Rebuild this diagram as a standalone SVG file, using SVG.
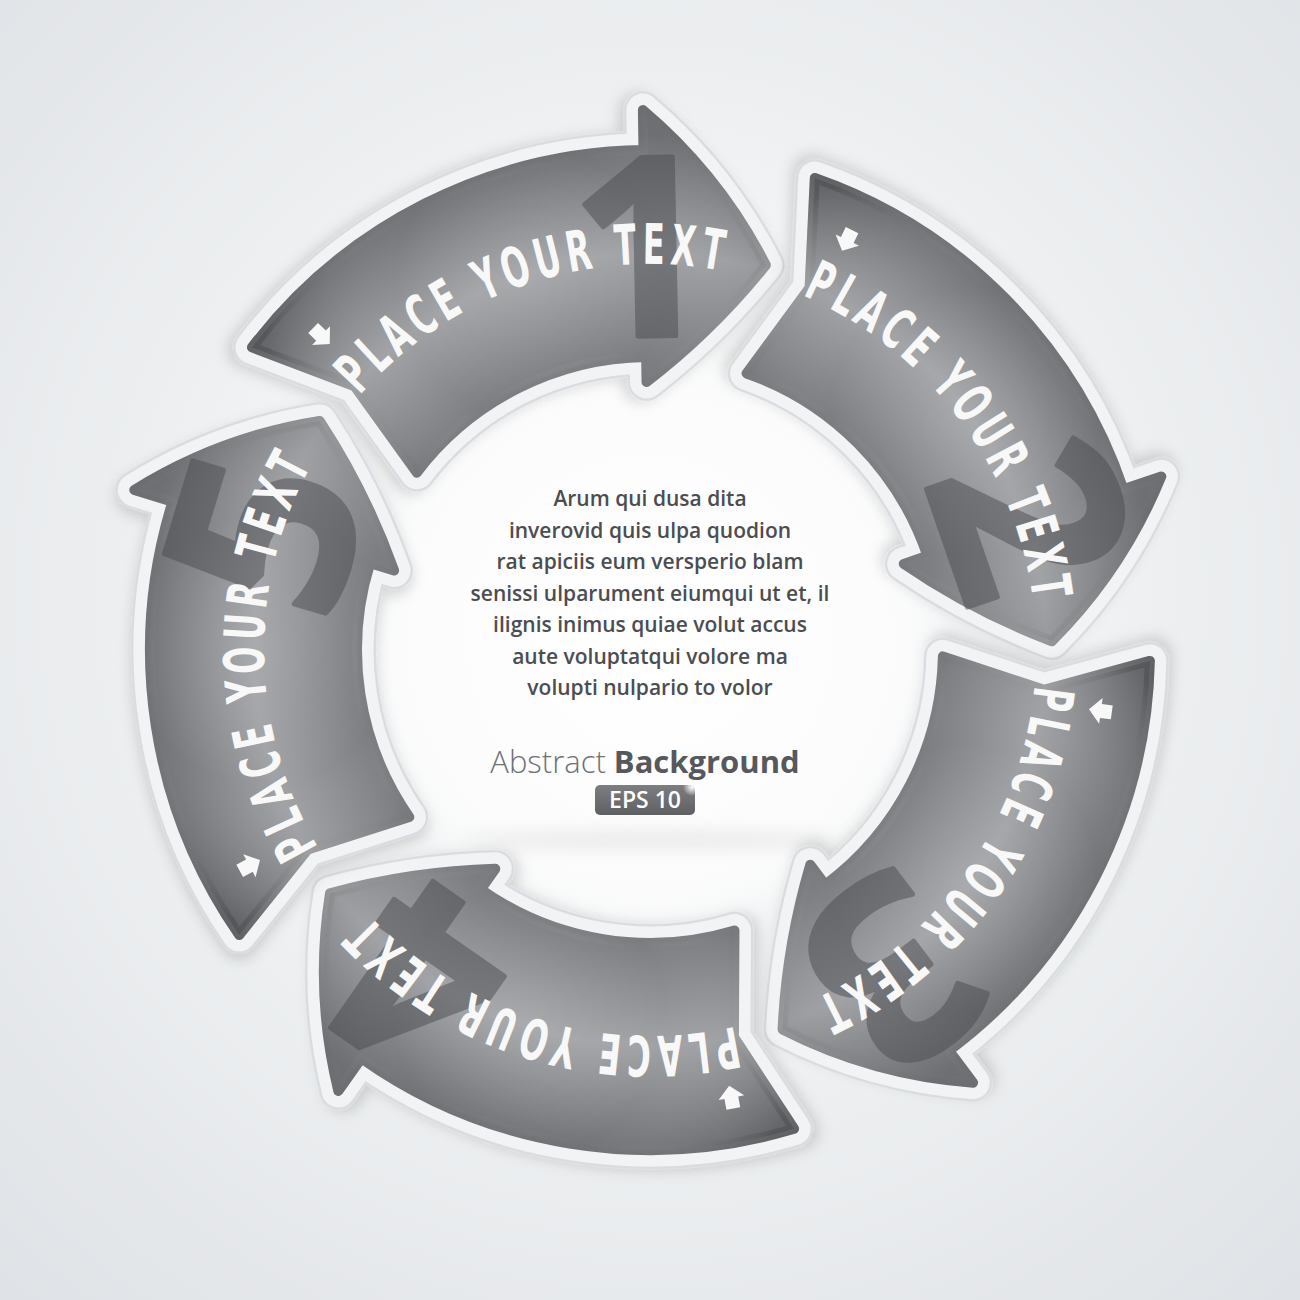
<svg xmlns="http://www.w3.org/2000/svg" width="1300" height="1300" viewBox="0 0 1300 1300">
<style>
.rimOuter{fill:#d9dce0;stroke:#d9dce0;stroke-width:38;stroke-linejoin:round}
.rim{fill:#f2f3f4;stroke:#f2f3f4;stroke-width:33;stroke-linejoin:round}
.body{fill:url(#bodyGrad);stroke:url(#bodyGrad);stroke-width:10;stroke-linejoin:round}
.spot{fill:url(#spotGrad);stroke:url(#spotGrad);stroke-width:10;stroke-linejoin:round}
.num{font-family:"Open Sans","Noto Sans",Roboto,sans-serif;font-weight:700;font-size:250px;fill:#4a4c50;stroke:#4a4c50;stroke-width:5;stroke-linejoin:round;opacity:0.5;text-anchor:middle}
.lbl{font-family:"DejaVu Sans Condensed","DejaVu Sans",sans-serif;font-stretch:condensed;font-weight:bold;font-size:56px;letter-spacing:8px;fill:#f8f8f8}
.ico{fill:#f8f8f8}
.para{font-family:"Open Sans","Noto Sans","Liberation Sans",sans-serif;font-weight:600;font-size:21px;fill:#4b4d51;text-anchor:middle}
</style>
<defs>
<radialGradient id="bg" gradientUnits="userSpaceOnUse" cx="650" cy="600" r="950">
<stop offset="0" stop-color="#fbfcfc"/>
<stop offset="0.45" stop-color="#f0f2f3"/>
<stop offset="1" stop-color="#dfe2e6"/>
</radialGradient>
<radialGradient id="disk" gradientUnits="userSpaceOnUse" cx="650" cy="640" r="300">
<stop offset="0" stop-color="#ffffff"/>
<stop offset="0.8" stop-color="#fcfcfd"/>
<stop offset="1" stop-color="#ffffff" stop-opacity="0"/>
</radialGradient>
<radialGradient id="bodyGrad" gradientUnits="userSpaceOnUse" cx="650" cy="650" r="515">
<stop offset="0.5" stop-color="#727478"/>
<stop offset="0.56" stop-color="#7a7c80"/>
<stop offset="0.77" stop-color="#a0a2a5"/>
<stop offset="1" stop-color="#6b6d71"/>
</radialGradient>
<radialGradient id="spotGrad" gradientUnits="userSpaceOnUse" cx="262" cy="650" r="270">
<stop offset="0" stop-color="#ffffff" stop-opacity="0.10"/>
<stop offset="0.5" stop-color="#ffffff" stop-opacity="0"/>
<stop offset="1" stop-color="#000000" stop-opacity="0.14"/>
</radialGradient>
<linearGradient id="badge" x1="0" y1="0" x2="0" y2="1">
<stop offset="0" stop-color="#7c7e81"/>
<stop offset="1" stop-color="#5e6063"/>
</linearGradient>
<radialGradient id="glint">
<stop offset="0" stop-color="#ffffff" stop-opacity="1"/>
<stop offset="1" stop-color="#ffffff" stop-opacity="0"/>
</radialGradient>
<filter id="shadow" x="-20%" y="-20%" width="140%" height="140%">
<feDropShadow dx="0" dy="6" stdDeviation="7" flood-color="#000" flood-opacity="0.15"/>
</filter>
<filter id="blur" x="-50%" y="-200%" width="200%" height="500%">
<feGaussianBlur stdDeviation="9"/>
</filter>
<path id="arrowShape" d="M 239.2 935.0 A 500 500 0 0 1 172.5 501.7 L 134.3 489.9 Q 220.0 436.7 319.7 420.9 Q 365.9 491.2 394.1 570.5 L 370.2 563.1 A 293 293 0 0 0 409.3 817.0 L 307.9 849.4 Z"/>
<path id="txtArc" d="M 328.9 864.2 A 386 386 0 0 1 323.7 443.7" fill="none"/>
<polygon id="icon" points="0,-12 13,0 7,0 7,11 -7,11 -7,0 -13,0"/>
</defs>

<rect x="0" y="0" width="1300" height="1300" fill="url(#bg)"/>
<circle cx="650" cy="645" r="300" fill="url(#disk)"/>
<ellipse cx="650" cy="840" rx="190" ry="10" fill="#000" opacity="0.07" filter="url(#blur)"/>

<g id="connectors"></g>

<g id="node-1" transform="rotate(72 650 650)">
<use href="#arrowShape" class="rimOuter" filter="url(#shadow)"/>
<use href="#arrowShape" class="rim"/>
<use href="#arrowShape" class="body"/>
<use href="#arrowShape" class="spot"/>
<text class="num" transform="translate(264.4 532.8) rotate(-73.1)" y="89">1</text>
<use href="#icon" class="ico" transform="translate(249.4 865.7) rotate(61.7)"/>
<text class="lbl"><textPath href="#txtArc" startOffset="50%" text-anchor="middle" textLength="405" lengthAdjust="spacingAndGlyphs">PLACE YOUR TEXT</textPath></text>
</g>

<g id="node-2" transform="rotate(144 650 650)">
<use href="#arrowShape" class="rimOuter" filter="url(#shadow)"/>
<use href="#arrowShape" class="rim"/>
<use href="#arrowShape" class="body"/>
<use href="#arrowShape" class="spot"/>
<text class="num" transform="translate(264.4 532.8) rotate(-73.1)" y="89">2</text>
<use href="#icon" class="ico" transform="translate(249.4 865.7) rotate(61.7)"/>
<text class="lbl"><textPath href="#txtArc" startOffset="50%" text-anchor="middle" textLength="405" lengthAdjust="spacingAndGlyphs">PLACE YOUR TEXT</textPath></text>
</g>

<g id="node-3" transform="rotate(216 650 650)">
<use href="#arrowShape" class="rimOuter" filter="url(#shadow)"/>
<use href="#arrowShape" class="rim"/>
<use href="#arrowShape" class="body"/>
<use href="#arrowShape" class="spot"/>
<text class="num" transform="translate(264.4 532.8) rotate(-73.1)" y="89">3</text>
<use href="#icon" class="ico" transform="translate(249.4 865.7) rotate(61.7)"/>
<text class="lbl"><textPath href="#txtArc" startOffset="50%" text-anchor="middle" textLength="405" lengthAdjust="spacingAndGlyphs">PLACE YOUR TEXT</textPath></text>
</g>

<g id="node-4" transform="rotate(288 650 650)">
<use href="#arrowShape" class="rimOuter" filter="url(#shadow)"/>
<use href="#arrowShape" class="rim"/>
<use href="#arrowShape" class="body"/>
<use href="#arrowShape" class="spot"/>
<text class="num" transform="translate(264.4 532.8) rotate(-73.1)" y="89">4</text>
<use href="#icon" class="ico" transform="translate(249.4 865.7) rotate(61.7)"/>
<text class="lbl"><textPath href="#txtArc" startOffset="50%" text-anchor="middle" textLength="405" lengthAdjust="spacingAndGlyphs">PLACE YOUR TEXT</textPath></text>
</g>

<g id="node-5">
<use href="#arrowShape" class="rimOuter" filter="url(#shadow)"/>
<use href="#arrowShape" class="rim"/>
<use href="#arrowShape" class="body"/>
<use href="#arrowShape" class="spot"/>
<text class="num" transform="translate(264.4 532.8) rotate(-73.1)" y="89">5</text>
<use href="#icon" class="ico" transform="translate(249.4 865.7) rotate(61.7)"/>
<text class="lbl"><textPath href="#txtArc" startOffset="50%" text-anchor="middle" textLength="405" lengthAdjust="spacingAndGlyphs">PLACE YOUR TEXT</textPath></text>
</g>

<g id="center-text">
<text class="para" x="650" y="506">Arum qui dusa dita</text>
<text class="para" x="650" y="538">inverovid quis ulpa quodion</text>
<text class="para" x="650" y="569">rat apiciis eum versperio blam</text>
<text class="para" x="650" y="601">senissi ulparument eiumqui ut et, il</text>
<text class="para" x="650" y="632">ilignis inimus quiae volut accus</text>
<text class="para" x="650" y="664">aute voluptatqui volore ma</text>
<text class="para" x="650" y="695">volupti nulpario to volor</text>
<text x="645" y="773" text-anchor="middle" font-family="'Open Sans','Noto Sans','Liberation Sans',sans-serif" font-size="31"><tspan font-weight="300" fill="#6f7174">Abstract </tspan><tspan font-weight="700" fill="#56585c">Background</tspan></text>
</g>

<g id="badge-eps">
<rect x="595" y="785" width="100" height="30" rx="5" fill="url(#badge)"/>
<text x="645" y="808" text-anchor="middle" font-family="'Open Sans','Noto Sans','Liberation Sans',sans-serif" font-weight="600" font-size="23" fill="#ffffff">EPS 10</text>
<circle cx="692" cy="787" r="9" fill="url(#glint)"/>
</g>
</svg>
